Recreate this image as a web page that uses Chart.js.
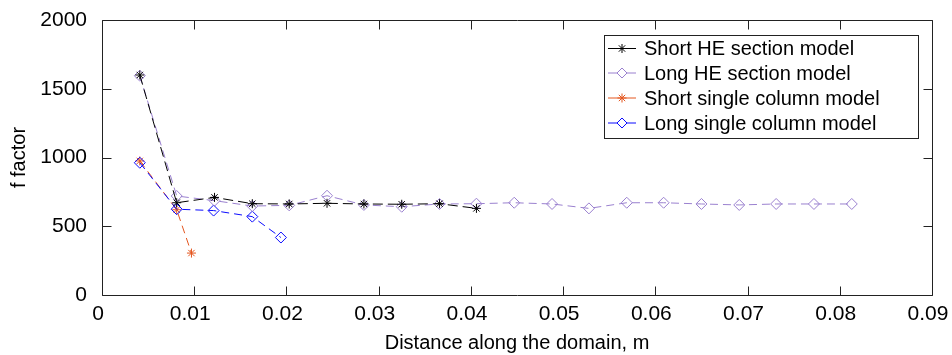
<!DOCTYPE html>
<html>
<head>
<meta charset="utf-8">
<style>
  html, body { margin: 0; padding: 0; background: #fff; }
  canvas { display: block; }
</style>
<script src="https://cdn.jsdelivr.net/npm/chart.js@4/dist/chart.umd.min.js"></script>
</head>
<body>
<canvas id="c" width="952" height="355"></canvas>
<script>
// ---- data ----
const seriesLabels = ["Short HE section model", "Long HE section model", "Short single column model", "Long single column model"];
const xShortHE = [0.0041, 0.0081, 0.0122, 0.0163, 0.0203, 0.0244, 0.0284, 0.0325, 0.0366, 0.0406];
const yShortHE = [1600, 671, 710, 664, 662, 667, 662, 660, 664, 630];
const xLongHE = [0.0041, 0.0081, 0.0122, 0.0163, 0.0203, 0.0244, 0.0284, 0.0325, 0.0366, 0.0406, 0.0447, 0.0488, 0.0528, 0.0569, 0.0609, 0.0650, 0.0691, 0.0731, 0.0772, 0.0813];
const yLongHE = [1595, 720, 686, 647, 652, 722, 655, 642, 662, 664, 671, 662, 630, 671, 671, 662, 655, 662, 662, 662];
const xShortSC = [0.0041, 0.0081, 0.0097];
const yShortSC = [975, 620, 305];
const xLongSC = [0.0041, 0.0081, 0.0121, 0.0163, 0.0194];
const yLongSC = [962, 624, 614, 570, 418];
const xTicks = [0, 0.01, 0.02, 0.03, 0.04, 0.05, 0.06, 0.07, 0.08, 0.09];
const yTicks = [0, 500, 1000, 1500, 2000];

const FONT = "'Liberation Sans', Arial, Helvetica, sans-serif";
const pts = (xs, ys) => xs.map((x, i) => ({ x: x, y: ys[i] }));

const datasets = [
  { label: seriesLabels[0], data: pts(xShortHE, yShortHE), borderColor: '#000000', pointStyle: 'star', pointRadius: 4.5, borderDash: [10, 5], order: 1 },
  { label: seriesLabels[1], data: pts(xLongHE, yLongHE), borderColor: '#9a80cf', pointStyle: 'rectRot', pointRadius: 5.5, borderDash: [8, 5], order: 2 },
  { label: seriesLabels[2], data: pts(xShortSC, yShortSC), borderColor: '#e4561f', pointStyle: 'star', pointRadius: 4.5, borderDash: [8, 5], order: 4 },
  { label: seriesLabels[3], data: pts(xLongSC, yLongSC), borderColor: '#0a0aff', pointStyle: 'rectRot', pointRadius: 5.5, borderDash: [8, 5], order: 3 }
].map(d => Object.assign({
  showLine: true,
  borderWidth: 1,
  pointBorderColor: d.borderColor,
  pointBackgroundColor: 'rgba(0,0,0,0)',
  pointBorderWidth: 1,
  tension: 0,
  fill: false
}, d));

const TL = 9;
const framePlugin = {
  id: 'frame',
  afterDatasetsDraw(chart) {
    const ctx = chart.ctx;
    const xs = chart.scales.x, ys = chart.scales.y;
    const L = Math.round(xs.getPixelForValue(xTicks[0])) + 0.5;
    const R = Math.round(xs.getPixelForValue(xTicks[xTicks.length - 1])) + 0.5;
    const B = Math.round(ys.getPixelForValue(yTicks[0])) + 0.5;
    const T = Math.round(ys.getPixelForValue(yTicks[yTicks.length - 1])) + 0.5;
    ctx.save();
    ctx.strokeStyle = '#222';
    ctx.lineWidth = 1;
    ctx.setLineDash([]);
    ctx.beginPath();
    ctx.rect(L, T, R - L, B - T);
    xTicks.forEach(v => {
      const px = Math.round(xs.getPixelForValue(v)) + 0.5;
      ctx.moveTo(px, B); ctx.lineTo(px, B - TL);
      ctx.moveTo(px, T); ctx.lineTo(px, T + TL);
    });
    yTicks.forEach(v => {
      const py = Math.round(ys.getPixelForValue(v)) + 0.5;
      ctx.moveTo(L, py); ctx.lineTo(L + TL, py);
      ctx.moveTo(R, py); ctx.lineTo(R - TL, py);
    });
    ctx.stroke();
    ctx.restore();
  }
};

const legendPlugin = {
  id: 'boxLegend',
  afterDraw(chart) {
    const ctx = chart.ctx;
    const bx = 604.5, by = 35.5, bw = 314, bh = 103;
    ctx.save();
    ctx.fillStyle = '#fff';
    ctx.fillRect(bx, by, bw, bh);
    ctx.strokeStyle = '#222';
    ctx.lineWidth = 1;
    ctx.setLineDash([]);
    ctx.strokeRect(bx, by, bw, bh);
    const rows = [48.5, 73, 98, 123];
    [0, 1, 2, 3].forEach((i, r) => {
      const ds = chart.data.datasets[i];
      const y = rows[r];
      ctx.strokeStyle = ds.borderColor;
      ctx.lineWidth = 1;
      ctx.setLineDash([]);
      ctx.beginPath();
      ctx.moveTo(608, y); ctx.lineTo(636, y);
      ctx.stroke();
      ctx.fillStyle = '#fff';
      Chart.helpers.drawPoint(ctx, { pointStyle: ds.pointStyle, radius: ds.pointStyle === 'star' ? 4.5 : 5, borderWidth: 1, rotation: 0 }, 622, y);
      ctx.fillStyle = '#000';
      ctx.font = '20px ' + FONT;
      ctx.textBaseline = 'middle';
      ctx.textAlign = 'left';
      ctx.fillText(ds.label, 644, y + 1);
    });
    ctx.restore();
  }
};

const noPad = s => { s.paddingTop = 0; s.paddingBottom = 0; s.paddingLeft = 0; s.paddingRight = 0; };

new Chart(document.getElementById('c'), {
  type: 'scatter',
  data: { datasets: datasets },
  options: {
    responsive: false,
    animation: false,
    devicePixelRatio: 1,
    layout: { padding: { top: 20, right: 20, left: 0, bottom: 0 } },
    plugins: { legend: { display: false }, tooltip: { enabled: false } },
    scales: {
      x: {
        type: 'linear', min: 0, max: 0.09,
        afterBuildTicks: s => { s.ticks = xTicks.map(v => ({ value: v })); },
        afterFit: s => { s.height = 60; noPad(s); },
        grid: { display: false, drawTicks: false },
        border: { display: false },
        ticks: {
          color: '#000', padding: 7, maxRotation: 0, autoSkip: false, labelOffset: -4,
          font: { family: FONT, size: 21 },
          callback: v => (v === 0 ? '0' : v.toFixed(2))
        },
        title: { display: true, text: 'Distance along the domain, m', color: '#000', font: { family: FONT, size: 20 }, padding: { top: 0, bottom: 0 } }
      },
      y: {
        type: 'linear', min: 0, max: 2000,
        afterBuildTicks: s => { s.ticks = yTicks.map(v => ({ value: v })); },
        afterFit: s => { s.width = 102; noPad(s); },
        grid: { display: false, drawTicks: false },
        border: { display: false },
        ticks: { color: '#000', padding: 15, font: { family: FONT, size: 21 }, callback: v => String(v) },
        title: { display: true, text: 'f factor', color: '#000', font: { family: FONT, size: 20 }, padding: { top: 7, bottom: 0 } }
      }
    }
  },
  plugins: [framePlugin, legendPlugin]
});
</script>
</body>
</html>
